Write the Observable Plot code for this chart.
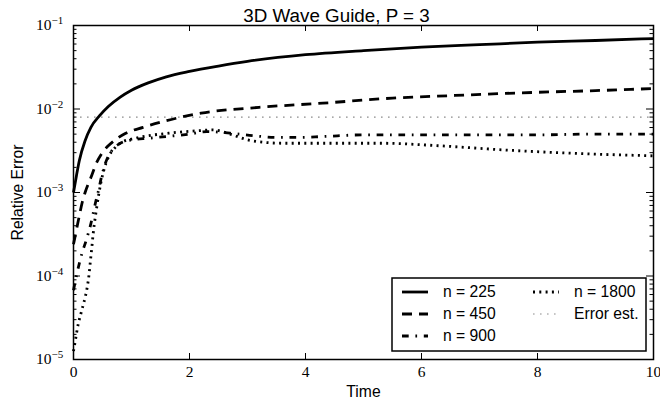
<!DOCTYPE html>
<html>
<head>
<meta charset="utf-8">
<script src="https://cdn.jsdelivr.net/npm/d3@7"></script>
<script src="https://cdn.jsdelivr.net/npm/@observablehq/plot@0.6"></script>
<style>
  body { margin: 0; background: #fff; }
  #chart svg { display: block; }
</style>
</head>
<body>
<div id="chart"></div>
<script>
// ---------- data ----------
const title = "3D Wave Guide, P = 3";
const xLabel = "Time";
const yLabel = "Relative Error";
const xTicks = [0, 2, 4, 6, 8, 10];
const yMajor = [1e-5, 1e-4, 1e-3, 1e-2, 1e-1];

const t225 = [0, 0.05, 0.1, 0.2, 0.3, 0.45, 0.6, 0.8, 1.0, 1.3, 1.6, 2.0, 2.5, 3, 4, 5, 6, 7, 8, 9, 10];
const v225 = [0.00100, 0.00158, 0.00240, 0.00417, 0.00603, 0.00832, 0.01072, 0.01380, 0.0168, 0.0207, 0.0243, 0.0282, 0.0327, 0.0372, 0.0447, 0.0501, 0.0550, 0.0589, 0.0631, 0.0661, 0.0698];

const t450 = [0, 0.05, 0.1, 0.15, 0.2, 0.3, 0.4, 0.5, 0.6, 0.7, 0.9, 1.2, 1.6, 2.2, 3.2, 4.3, 5.5, 6.5, 8, 9, 10];
const v450 = [0.000240, 0.000355, 0.000525, 0.000759, 0.00100, 0.00151, 0.00229, 0.00302, 0.00363, 0.00417, 0.00513, 0.00603, 0.00724, 0.00891, 0.01047, 0.01175, 0.01349, 0.01445, 0.01585, 0.0166, 0.01758];

const t900 = [0, 0.05, 0.1, 0.15, 0.22, 0.29, 0.38, 0.43, 0.48, 0.55, 0.64, 0.78, 1.0, 1.3, 1.6, 2.0, 2.3, 2.7, 3.1, 3.5, 3.9, 4.3, 5.0, 6, 7, 8, 9, 10];
const v900 = [6.76e-5, 1.00e-4, 1.41e-4, 1.91e-4, 2.69e-4, 3.98e-4, 7.59e-4, 1.05e-3, 1.51e-3, 2.24e-3, 3.02e-3, 3.80e-3, 4.27e-3, 4.47e-3, 4.68e-3, 5.01e-3, 5.37e-3, 5.13e-3, 4.79e-3, 4.57e-3, 4.57e-3, 4.68e-3, 4.90e-3, 4.90e-3, 4.90e-3, 4.90e-3, 5.01e-3, 5.01e-3];

const t1800 = [0, 0.03, 0.08, 0.12, 0.17, 0.2, 0.24, 0.27, 0.29, 0.31, 0.34, 0.40, 0.47, 0.52, 0.6, 0.72, 0.83, 1.07, 1.64, 2.16, 2.4, 2.7, 3.0, 3.3, 3.6, 4.1, 5.3, 6.3, 7.4, 8.6, 10];
const v1800 = [1.26e-5, 1.66e-5, 2.63e-5, 3.39e-5, 4.57e-5, 5.50e-5, 7.59e-5, 1.07e-4, 1.48e-4, 2.00e-4, 3.24e-4, 6.61e-4, 1.29e-3, 1.82e-3, 2.63e-3, 3.47e-3, 3.98e-3, 4.47e-3, 5.13e-3, 5.50e-3, 5.62e-3, 5.01e-3, 4.27e-3, 3.98e-3, 3.89e-3, 3.89e-3, 3.89e-3, 3.63e-3, 3.24e-3, 2.95e-3, 2.75e-3];

const errEst = 0.008;
const seriesNames = ["n = 225", "n = 450", "n = 900", "n = 1800", "Error est."];

// ---------- styles / layout ----------
const W = 660, H = 407;
const ML = 73, MR = 7, MT = 25, MB = 48;
const FW = W - ML - MR, FH = H - MT - MB;
const SANS = "'Liberation Sans', Arial, Helvetica, sans-serif";
const SERIF = "'Liberation Serif', 'Times New Roman', serif";
const styles = [
  {stroke: "black", width: 2.8, dash: null, cap: "butt"},
  {stroke: "black", width: 2.8, dash: "10,7", cap: "butt"},
  {stroke: "black", width: 2.8, dash: "6.7,6.7,1.7,6.7", cap: "butt"},
  {stroke: "black", width: 2.8, dash: "2,4.3", cap: "butt"},
  {stroke: "#8c8c8c", width: 1.1, dash: "1.6,5.4", cap: "butt"}
];

const toRows = (ts, vs) => ts.map((t, i) => ({t, v: vs[i]}));
const series = [toRows(t225, v225), toRows(t450, v450), toRows(t900, v900), toRows(t1800, v1800)];

const yMinor = [];
for (const d of yMajor.slice(0, -1)) for (let k = 2; k <= 9; k++) yMinor.push(d * k);

const lineMarks = series.map((rows, i) => Plot.line(rows, {
  x: "t", y: "v", curve: "monotone-x",
  stroke: styles[i].stroke, strokeWidth: styles[i].width,
  strokeDasharray: styles[i].dash, strokeLinecap: styles[i].cap, strokeLinejoin: "round"
}));

const chart = Plot.plot({
  width: W, height: H,
  marginLeft: ML, marginRight: MR, marginTop: MT, marginBottom: MB,
  style: {background: "white", color: "black", overflow: "visible"},
  x: {domain: [0, 10], axis: null},
  y: {type: "log", domain: [1e-5, 1e-1], axis: null},
  marks: [
    Plot.ruleY([errEst], {stroke: styles[4].stroke, strokeWidth: styles[4].width, strokeDasharray: styles[4].dash}),
    ...lineMarks,
    // inward ticks
    Plot.tickX(xTicks, {x: d => d, insetTop: FH - 6, stroke: "black", strokeWidth: 1}),
    Plot.tickX(xTicks, {x: d => d, insetBottom: FH - 6, stroke: "black", strokeWidth: 1}),
    Plot.tickY(yMajor, {y: d => d, insetRight: FW - 7, stroke: "black", strokeWidth: 1}),
    Plot.tickY(yMajor, {y: d => d, insetLeft: FW - 7, stroke: "black", strokeWidth: 1}),
    Plot.tickY(yMinor, {y: d => d, insetRight: FW - 3.5, stroke: "black", strokeWidth: 1}),
    Plot.tickY(yMinor, {y: d => d, insetLeft: FW - 3.5, stroke: "black", strokeWidth: 1}),
    Plot.frame({stroke: "black", strokeWidth: 1.5}),
    // x tick labels
    Plot.text(xTicks, {x: d => d, text: d => String(d), frameAnchor: "bottom", lineAnchor: "middle", dy: 13,
      fontFamily: SERIF, fontSize: 15.5, fill: "black"}),
    // y tick labels: 10^{-k}
    Plot.text(yMajor, {y: d => d, text: () => "10", frameAnchor: "left", textAnchor: "end", lineAnchor: "middle", dx: -22,
      fontFamily: SERIF, fontSize: 15.5, fill: "black"}),
    Plot.text(yMajor, {y: d => d, text: d => "\u2212" + Math.round(-Math.log10(d)), frameAnchor: "left",
      textAnchor: "start", lineAnchor: "middle", dx: -22, dy: -5, fontFamily: SERIF, fontSize: 11, fill: "black"}),
    // labels & title
    Plot.text([xLabel], {text: d => d, frameAnchor: "bottom", lineAnchor: "middle", dy: 32,
      fontFamily: SANS, fontSize: 15.7, fill: "black"}),
    Plot.text([yLabel], {text: d => d, frameAnchor: "left", textAnchor: "middle", lineAnchor: "middle", dx: -56, rotate: -90,
      fontFamily: SANS, fontSize: 15.7, fill: "black"}),
    Plot.text([title], {text: d => d, frameAnchor: "top-left", textAnchor: "middle", lineAnchor: "middle",
      dx: 336 - ML, dy: -10, fontFamily: SANS, fontSize: 18.8, fill: "black"})
  ]
});

document.getElementById("chart").appendChild(chart);

// ---------- legend ----------
const svg = d3.select(chart);
const lg = svg.append("g").attr("class", "legend");
lg.append("rect").attr("x", 392).attr("y", 278).attr("width", 254).attr("height", 73)
  .attr("fill", "white").attr("stroke", "black").attr("stroke-width", 1.5);
const slots = [[402, 292], [402, 314], [402, 336], [533, 292], [533, 314]];
seriesNames.forEach((name, i) => {
  const [x, y] = slots[i];
  const s = styles[i];
  lg.append("line").attr("x1", x).attr("x2", x + 26).attr("y1", y).attr("y2", y)
    .attr("stroke", s.stroke).attr("stroke-width", s.width)
    .attr("stroke-dasharray", s.dash).attr("stroke-linecap", s.cap);
  lg.append("text").attr("x", x + 41).attr("y", y).attr("dy", "0.35em")
    .attr("text-anchor", "start")
    .attr("font-family", SANS).attr("font-size", 15.7).attr("fill", "black").text(name);
});
</script>
</body>
</html>
